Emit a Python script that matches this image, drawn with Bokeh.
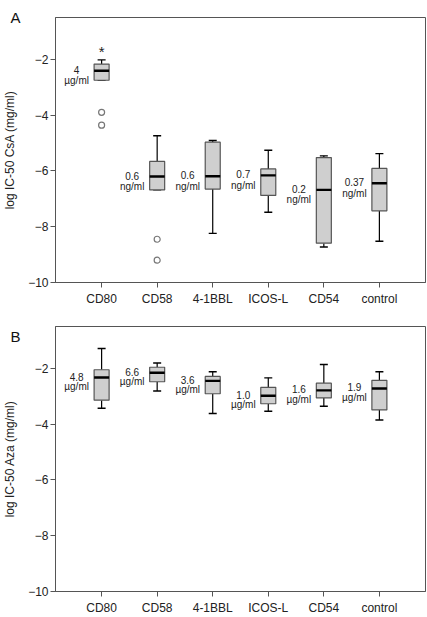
from bokeh.plotting import figure
from bokeh.models import FactorRange, Range1d, FixedTicker, Label
from bokeh.layouts import column
from bokeh.core.properties import value
from bokeh.embed import file_html
from bokeh.resources import INLINE

categories = ["CD80", "CD58", "4-1BBL", "ICOS-L", "CD54", "control"]

# Panel A: log IC-50 CsA (mg/ml)
a_low = [-2.75, -6.68, -8.24, -7.48, -8.73, -8.52]
a_q1 = [-2.75, -6.68, -6.65, -6.88, -8.59, -7.43]
a_med = [-2.41, -6.20, -6.19, -6.16, -6.68, -6.44]
a_q3 = [-2.17, -5.66, -4.97, -5.93, -5.52, -5.91]
a_high = [-2.02, -4.74, -4.91, -5.26, -5.46, -5.38]
a_out_cat = ["CD80", "CD80", "CD58", "CD58"]
a_out_val = [-3.90, -4.36, -8.45, -9.20]
a_ext_cat = ["CD80"]
a_ext_val = [-1.62]
a_conc = ["4", "0.6", "0.6", "0.7", "0.2", "0.37"]
a_unit = ["µg/ml", "ng/ml", "ng/ml", "ng/ml", "ng/ml", "ng/ml"]

# Panel B: log IC-50 Aza (mg/ml)
b_low = [-3.43, -2.81, -3.62, -3.54, -3.36, -3.85]
b_q1 = [-3.14, -2.48, -2.91, -3.27, -3.06, -3.49]
b_med = [-2.33, -2.16, -2.45, -2.98, -2.79, -2.72]
b_q3 = [-2.05, -1.96, -2.29, -2.68, -2.53, -2.43]
b_high = [-1.29, -1.81, -2.12, -2.34, -1.86, -2.12]
b_conc = ["4.8", "6.6", "3.6", "1.0", "1.6", "1.9"]
b_unit = ["µg/ml", "µg/ml", "µg/ml", "µg/ml", "µg/ml", "µg/ml"]

y_ticks = [-10, -8, -6, -4, -2]

FONT = "Liberation Sans"
BOX_W = 0.27


def make_panel(letter, letter_y, ylabel, low, q1, med, q3, high, conc, unit,
               out_cat, out_val, ext_cat, ext_val, height, top_b, bot_b, unit_gap):
    p = figure(width=427, height=height, output_backend="svg", toolbar_location=None,
               x_range=FactorRange(factors=categories, range_padding=0.11,
                                   range_padding_units="percent"),
               y_range=Range1d(-10, -0.5),
               min_border_left=49, min_border_right=2,
               min_border_top=top_b, min_border_bottom=bot_b)
    p.xgrid.visible = False
    p.ygrid.visible = False
    p.outline_line_color = "#555555"
    p.outline_line_width = 1
    p.background_fill_color = "white"
    p.border_fill_color = "white"

    for ax in (p.xaxis[0], p.yaxis[0]):
        ax.axis_line_color = "#555555"
        ax.major_tick_line_color = "#555555"
        ax.major_tick_out = 5
        ax.major_tick_in = 0
        ax.minor_tick_line_color = None
        ax.major_label_text_font = FONT
        ax.major_label_text_font_size = "12px"
        ax.major_label_text_color = "#222222"
    p.yaxis.major_label_standoff = 2
    p.xaxis.major_label_standoff = 4
    p.yaxis.ticker = FixedTicker(ticks=y_ticks)
    p.yaxis.axis_label = ylabel
    p.yaxis.axis_label_text_font = FONT
    p.yaxis.axis_label_text_font_size = "12px"
    p.yaxis.axis_label_text_font_style = "normal"
    p.yaxis.axis_label_text_color = "#222222"
    p.yaxis.axis_label_standoff = 8

    # whiskers
    p.segment(x0=categories, y0=q3, x1=categories, y1=high, line_color="black", line_width=1.2)
    p.segment(x0=categories, y0=q1, x1=categories, y1=low, line_color="black", line_width=1.2)
    p.scatter(x=categories, y=high, marker="dash", size=8, line_color="black", line_width=1.4)
    p.scatter(x=categories, y=low, marker="dash", size=8, line_color="black", line_width=1.4)
    # boxes
    p.vbar(x=categories, bottom=q1, top=q3, width=BOX_W, fill_color="#cfcfcf",
           line_color="#555555", line_width=1.2)
    # medians
    p.vbar(x=categories, bottom=med, top=med, width=BOX_W, fill_color=None,
           line_color="black", line_width=2.4)
    # outliers
    if out_cat:
        p.scatter(x=out_cat, y=out_val, marker="circle", size=6, fill_color="white",
                  line_color="#777777", line_width=1.2)
    if ext_cat:
        p.text(x=ext_cat, y=ext_val, text=["*"] * len(ext_cat), text_align="center",
               text_baseline="middle", y_offset=3, text_font=value(FONT),
               text_font_size="15px", text_color="#222222")
    # concentration labels
    p.text(x=categories, y=med, text=conc, x_offset=-25, y_offset=-1,
           text_align="center", text_baseline="middle", text_font=value(FONT),
           text_font_size="10px", text_color="#222222")
    p.text(x=categories, y=med, text=unit, x_offset=-25, y_offset=unit_gap,
           text_align="center", text_baseline="middle", text_font=value(FONT),
           text_font_size="10px", text_color="#222222")

    # panel letter, drawn in the (unclipped) panel above the frame
    lab = Label(x=-1.14, y=letter_y, x_units="data", y_units="data", text=letter,
                text_font=FONT, text_font_size="15px", text_color="#111111",
                text_baseline="top", text_align="left")
    p.add_layout(lab, "above")
    return p


pA = make_panel("A", -0.21, "log IC-50 CsA (mg/ml)", a_low, a_q1, a_med, a_q3, a_high,
                a_conc, a_unit, a_out_cat, a_out_val, a_ext_cat, a_ext_val,
                height=308, top_b=7, bot_b=23, unit_gap=10)
pB = make_panel("B", -0.55, "log IC-50 Aza (mg/ml)", b_low, b_q1, b_med, b_q3, b_high,
                b_conc, b_unit, [], [], [], [],
                height=309, top_b=18, bot_b=23, unit_gap=9)

layout = column(pA, pB, spacing=0)
open("out.html", "w").write(file_html(layout, INLINE))
